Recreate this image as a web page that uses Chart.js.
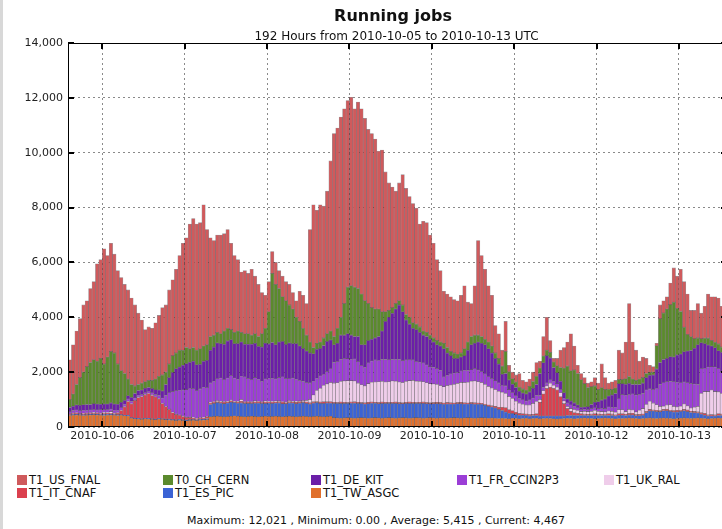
<!DOCTYPE html>
<html>
<head>
<meta charset="utf-8">
<script src="https://cdn.jsdelivr.net/npm/chart.js@4/dist/chart.umd.min.js"></script>
<style>
html, body { margin: 0; padding: 0; background: #fff; overflow: hidden; }
body { width: 722px; height: 529px; position: relative; font-family: "DejaVu Sans", sans-serif; color: #111; }
#edge { position: absolute; left: 0; top: 0; width: 3px; height: 529px; background: #d8d8d8; }
#wrap { position: absolute; left: 0; top: 0; width: 730px; height: 460px; }
.title { position: absolute; top: 6px; left: 0; width: 786px; text-align: center; font-weight: bold; font-size: 16px; }
.sub { position: absolute; top: 29px; left: 0; width: 793px; text-align: center; font-size: 12px; }
.leg { position: absolute; font-size: 11.5px; line-height: 13px; white-space: nowrap; }
.leg i { position: absolute; left: 0; top: 1px; width: 10px; height: 10px; }
.leg span { margin-left: 12px; }
#stats { position: absolute; top: 514px; left: 0; width: 752px; text-align: center; font-size: 11px; }
</style>
</head>
<body>
<div id="edge"></div>
<div id="wrap"><canvas id="chart" width="730" height="460"></canvas></div>
<div class="title">Running jobs</div>
<div class="sub">192 Hours from 2010-10-05 to 2010-10-13 UTC</div>
<div id="legend"></div>
<div id="stats">Maximum: 12,021 , Minimum: 0.00 , Average: 5,415 , Current: 4,467</div>
<script>
// hourly bins, first bin starts 2010-10-05 14:00 UTC
const FIRST_MIDNIGHT = 10
const DAYS = ['2010-10-06', '2010-10-07', '2010-10-08', '2010-10-09', '2010-10-10', '2010-10-11', '2010-10-12', '2010-10-13']
const Y_TICKS = [0, 2000, 4000, 6000, 8000, 10000, 12000, 14000]

// stacked bottom to top
const ASGC = [
  420, 430, 440, 430, 420, 430, 440, 450, 440, 430, 420, 430, 440, 430, 420, 430, 410, 400,
  320, 300, 290, 280, 300, 290, 280, 270, 290, 280,
  270, 260, 250, 240, 250, 240, 230, 240, 250, 240, 250, 260, 270,
  370, 380, 390, 380, 370, 380, 390, 400, 390, 380, 370, 380, 390, 380, 370, 380, 390, 380,
  380, 390, 380, 370, 380, 390, 380, 370, 380, 390, 380, 370, 380, 390, 380, 370, 380, 390,
  340, 330, 320, 330, 340, 330, 320, 330, 340, 330, 320, 330, 340, 330, 320, 330, 340, 330, 320, 330, 340, 330, 320, 330, 340, 330, 320, 330, 340, 330, 320, 330,
  330, 320, 330, 340, 330, 320, 330, 340, 330, 320, 330, 340, 330, 320, 330, 320, 310,
  320, 310, 300, 320, 310, 300, 310, 320, 300, 310, 320,
  300, 310, 320, 310, 300, 290, 300, 310, 320, 310, 300, 310, 320, 330, 320, 310, 300, 310, 320, 330, 320, 310, 300, 310,
  310, 320, 330, 320, 310, 300, 310, 320, 330, 320, 310, 320, 330, 320, 310, 300, 310, 320, 330, 320, 310, 320, 330, 320, 310, 300, 310, 320, 330, 320, 310
]
const PIC = [
  20, 30, 20, 20, 30, 20, 20, 30, 20, 20, 40, 30, 20, 20, 30, 20, 20, 30,
  20, 20, 30, 20, 20, 30, 20, 20, 30, 20,
  20, 30, 20, 20, 30, 20, 20, 30, 20, 20, 30, 20, 40,
  450, 480, 500, 490, 480, 500, 510, 490, 480, 500, 490, 480, 470, 490, 500, 480, 470, 490,
  480, 490, 500, 480, 470, 490, 500, 480, 490, 500, 480, 470, 490, 500, 480, 490, 500, 480,
  520, 530, 540, 530, 520, 540, 550, 530, 520, 510, 530, 540, 530, 520, 540, 530, 520, 530, 540, 520, 510, 530, 540, 530, 520, 530, 540, 520, 510, 520, 530, 520,
  500, 520, 510, 500, 520, 530, 510, 500, 520, 510, 500, 490, 460, 430, 400, 370, 330,
  280, 240, 200, 170, 150, 130, 120, 110, 100, 110, 100,
  100, 90, 80, 90, 100, 110, 100, 90, 100, 110, 120, 110, 100, 90, 100, 110, 120, 110, 100, 90, 100, 110, 100, 120,
  120, 100, 110, 120, 100, 110, 120, 200, 250, 260, 250, 240, 260, 270, 260, 250, 240, 250, 260, 240, 220, 200, 180, 150, 120, 100, 90, 80, 90, 100, 80
]
const CNAF = [
  40, 40, 50, 40, 40, 50, 40, 40, 50, 40, 40, 50, 40, 40, 60, 150, 300, 500,
  500, 650, 750, 800, 850, 900, 850, 800, 700, 550,
  450, 350, 250, 200, 150, 120, 100, 80, 60, 50, 50, 50, 60,
  60, 50, 40, 50, 60, 40, 50, 40, 50, 60, 40, 50, 40, 50, 60, 40, 50, 40,
  50, 40, 50, 60, 40, 50, 40, 50, 60, 40, 50, 40, 50, 40, 50, 60, 40, 50,
  40, 30, 50, 40, 30, 40, 50, 40, 30, 40, 50, 40, 30, 40, 50, 40, 30, 40, 50, 40, 30, 40, 50, 40, 30, 40, 50, 40, 30, 40, 50, 40,
  40, 50, 40, 30, 40, 50, 40, 30, 40, 50, 40, 30, 40, 50, 40, 60, 80,
  120, 150, 130, 100, 80, 60, 50, 40, 50, 40, 60,
  500, 800, 1000, 1050, 1000, 950, 700, 450, 250, 150, 100, 80, 60, 50, 40, 50, 60, 50, 40, 50, 60, 50, 40, 50,
  50, 40, 50, 60, 40, 50, 40, 50, 60, 40, 50, 40, 50, 60, 40, 50, 60, 40, 50, 60, 40, 50, 40, 50, 60, 40, 50, 40, 60, 50, 40
]
const RAL = [
  0, 10, 10, 0, 10, 10, 20, 10, 10, 20, 30, 20, 60, 20, 10, 10, 10, 10,
  10, 10, 20, 10, 10, 10, 20, 10, 10, 10,
  10, 10, 20, 10, 10, 20, 10, 10, 20, 10, 10, 20, 10,
  20, 10, 30, 20, 10, 20, 30, 10, 20, 60, 20, 10, 20, 30, 10, 20, 40, 20,
  20, 30, 20, 10, 20, 30, 20, 40, 20, 30, 60, 120, 250, 400, 500, 600, 650, 700,
  700, 720, 750, 780, 800, 780, 760, 700, 650, 620, 680, 720, 740, 760, 750, 740, 760, 780, 760, 750, 740, 760, 780, 800, 780, 760, 740, 720, 700, 680, 650, 620,
  600, 620, 650, 680, 700, 720, 740, 760, 780, 800, 780, 760, 720, 680, 650, 620, 580,
  550, 520, 480, 450, 400, 380, 350, 330, 350, 400, 450,
  100, 120, 100, 150, 120, 100, 150, 100, 80, 100, 120, 100, 80, 100, 100, 100, 120, 100, 100, 80, 100, 100, 100, 150,
  150, 100, 150, 120, 100, 150, 200, 250, 300, 250, 200, 150, 120, 150, 200, 150, 120, 150, 200, 150, 120, 150, 200, 700, 800, 850, 900, 850, 800, 750, 700
]
const CCIN2P3 = [
  80, 90, 100, 100, 110, 100, 100, 110, 100, 120, 100, 110, 100, 100, 90, 90, 80, 80,
  80, 80, 70, 80, 80, 70, 80, 90, 120, 200,
  400, 600, 750, 850, 900, 950, 1000, 1050, 1050, 1000, 1050, 1100, 1050,
  700, 750, 800, 850, 800, 850, 900, 850, 800, 850, 900, 850, 800, 850, 800, 750, 800, 850,
  850, 800, 850, 900, 850, 800, 850, 800, 750, 700, 650, 600, 500, 450, 450, 400, 450, 500,
  750, 780, 800, 820, 800, 780, 800, 780, 700, 680, 750, 780, 800, 780, 800, 820, 800, 780, 800, 820, 800, 780, 760, 740, 720, 700, 680, 650, 620, 600, 580, 550,
  350, 380, 400, 420, 400, 420, 450, 430, 420, 450, 430, 400, 380, 350, 350, 320, 300,
  250, 280, 250, 220, 200, 180, 160, 150, 180, 200, 220,
  150, 120, 100, 120, 150, 130, 120, 100, 120, 130, 120, 100, 80, 80, 80, 100, 100, 100, 120, 120, 150, 150, 180, 400,
  550, 600, 550, 580, 620, 580, 550, 530, 450, 500, 600, 800, 850, 850, 850, 900, 900, 850, 800, 850, 900, 850, 800, 900, 850, 900, 850, 900, 850, 800, 850
]
const KIT = [
  150, 160, 180, 200, 200, 210, 200, 210, 220, 200, 210, 200, 220, 230, 220, 200, 150, 120,
  150, 160, 170, 160, 150, 140, 150, 170, 200, 250,
  400, 550, 700, 800, 850, 900, 950, 950, 1000, 950, 900, 950, 1000,
  1200, 1250, 1300, 1250, 1300, 1350, 1300, 1250, 1300, 1250, 1200, 1250, 1300, 1250, 1200, 1250, 1300, 1250,
  1300, 1250, 1300, 1300, 1250, 1300, 1250, 1300, 1250, 1200, 1150, 1100, 1000, 1050, 1000, 1050, 1100, 1050,
  650, 660, 890, 850, 910, 880, 820, 920, 760, 820, 820, 790, 810, 870, 1040, 1390, 1550, 1690, 1830, 1990, 1780, 1460, 1300, 1160, 1160, 1090, 1020, 1040, 1000, 930, 870, 890,
  1030, 810, 670, 530, 510, 510, 530, 740, 910, 920, 1020, 1030, 1070, 1020, 930, 810, 700,
  400, 450, 350, 300, 300, 250, 250, 250, 300, 350, 400,
  800, 900, 1000, 800, 500, 400, 300, 200, 150, 150, 120, 100, 80, 80, 100, 150, 200, 250, 300, 350, 400, 450, 500, 550,
  400, 400, 400, 350, 380, 360, 380, 450, 500, 530, 700, 800, 850, 850, 900, 900, 1000, 1050, 1100, 1150, 1200, 1300, 1450, 950, 900, 800, 750, 700, 650, 700, 650
]
const CERN = [
  290, 440, 750, 1010, 1190, 1380, 1530, 1600, 1560, 1670, 1460, 1710, 1870, 1860, 1470, 1150, 980, 610,
  470, 280, 220, 250, 240, 260, 300, 390, 500, 590,
  450, 500, 610, 580, 610, 550, 590, 490, 500, 530, 560, 550, 570,
  500, 430, 390, 360, 480, 460, 370, 410, 460, 350, 380, 380, 330, 350, 360, 480, 550, 1170,
  2520, 2200, 1950, 1630, 1590, 1390, 1260, 960, 900, 740, 580, 400, 230, 220, 240, 280, 280, 330,
  300, 550, 650, 1150, 1700, 1800, 1800, 1750, 1850, 1600, 1350, 1150, 1050, 1000, 700, 350, 250, 200, 200, 150, 250, 200, 250, 200, 200, 200, 150, 150, 150, 150, 150, 150,
  200, 200, 150, 200, 150, 150, 250, 300, 300, 300, 250, 250, 200, 250, 250, 200, 200,
  300, 800, 300, 200, 200, 150, 150, 150, 200, 250, 300,
  200, 250, 200, 200, 200, 250, 500, 900, 1200, 1100, 1200, 1150, 1000, 850, 700, 650, 600, 450, 450, 350, 250, 200, 200, 150,
  150, 200, 250, 200, 150, 200, 200, 150, 100, 100, 850, 1600, 1700, 1800, 1900, 2000, 1700, 1550, 900, 600, 500, 350, 250, 150, 200, 250, 200, 200, 250, 200, 150
]
const FNAL = [
  1450, 1800, 1950, 2150, 2450, 2400, 2700, 2850, 3550, 3600, 4200, 3700, 3950, 3600, 3400, 3400, 3250, 3250,
  3150, 2950, 2600, 2300, 1900, 1950, 1900, 2050, 2220, 2450,
  2450, 2700, 2770, 3050, 3450, 3900, 4000, 4550, 4700, 4600, 4600, 5150, 4200,
  3600, 3450, 3550, 3600, 3550, 3600, 3150, 2800, 2600, 2200, 2300, 2200, 2400, 2100, 1900, 1500, 1200, 1100,
  800, 800, 650, 750, 700, 750, 600, 600, 1100, 1200, 1150, 4100, 5200, 4850, 5000, 4800, 5200, 6200,
  7400, 7300, 7300, 7100, 6800, 6871, 6500, 6800, 6750, 6650, 6350, 6350, 6200, 5750, 5900, 5100, 4650, 4400, 4100, 4300, 4750, 4600, 4400, 4350, 4230, 3750, 4000, 4000, 3650, 3450, 2950, 2600,
  1900, 1950, 2000, 1950, 1950, 2100, 2300, 1450, 1200, 1800, 3450, 2950, 2550, 2050, 1850, 1000, 900,
  580, 1100, 240, 240, 260, 500, 310, 300, 270, 340, 500,
  250, 710, 1200, 430, 130, 270, 630, 750, 880, 1350, 870, 300, 230, 220, 160, 180, 300, 230, 870, 430, 220, 280, 280, 1070,
  970, 1340, 2660, 1350, 1100, 650, 750, 550, 260, 200, 90, 500, 440, 450, 790, 1250, 1170, 1540, 1660, 1480, 960, 1030, 1250, 930, 1160, 1610, 1600, 1660, 1670, 1480, 1687
]

const SERIES = [
  { name: 'T1_TW_ASGC', values: ASGC, color: '#e0702c' },
  { name: 'T1_ES_PIC', values: PIC, color: '#3b63d5' },
  { name: 'T1_IT_CNAF', values: CNAF, color: '#db404e' },
  { name: 'T1_UK_RAL', values: RAL, color: '#efcdea' },
  { name: 'T1_FR_CCIN2P3', values: CCIN2P3, color: '#9b3ed6' },
  { name: 'T1_DE_KIT', values: KIT, color: '#6b1fa8' },
  { name: 'T0_CH_CERN', values: CERN, color: '#5b8a2d' },
  { name: 'T1_US_FNAL', values: FNAL, color: '#cf5a5c' }
]

// legend grid, as in the original (column-major)
const LEGEND_ROWS = [
  ['T1_US_FNAL', 'T0_CH_CERN', 'T1_DE_KIT', 'T1_FR_CCIN2P3', 'T1_UK_RAL'],
  ['T1_IT_CNAF', 'T1_ES_PIC', 'T1_TW_ASGC']
]
const LEGEND_X = [17, 163, 311, 457, 604]
const LEGEND_Y = [474, 487]

function fmt (v) {
  return String(v).replace(/\B(?=(\d{3})+(?!\d))/g, ',')
}

const legend = document.getElementById('legend')
LEGEND_ROWS.forEach((row, r) => {
  row.forEach((name, c) => {
    const s = SERIES.find((d) => d.name === name)
    const item = document.createElement('div')
    item.className = 'leg'
    item.style.left = LEGEND_X[c] + 'px'
    item.style.top = LEGEND_Y[r] + 'px'
    item.innerHTML = `<i style="background:${s.color}"></i><span>${name}</span>`
    legend.appendChild(item)
  })
})

const frame = {
  id: 'frame',
  afterDraw (chart) {
    const { ctx, chartArea: a, scales: { x, y } } = chart
    ctx.save()
    ctx.strokeStyle = '#000'
    ctx.lineWidth = 1
    ctx.strokeRect(a.left + 0.5, a.top + 0.5, a.right - a.left - 1, a.bottom - a.top - 1)
    ctx.lineWidth = 2
    ctx.beginPath()
    for (const t of x.ticks) {
      const px = Math.round(x.getPixelForValue(t.value))
      ctx.moveTo(px, a.top)
      ctx.lineTo(px, a.top + 6)
      ctx.moveTo(px, a.bottom)
      ctx.lineTo(px, a.bottom - 6)
    }
    for (const t of y.ticks) {
      const py = Math.round(y.getPixelForValue(t.value))
      ctx.moveTo(a.left, py)
      ctx.lineTo(a.left + 6, py)
      ctx.moveTo(a.right, py)
      ctx.lineTo(a.right - 6, py)
    }
    ctx.stroke()
    ctx.restore()
  }
}

Chart.defaults.font.family = '"DejaVu Sans", sans-serif'
Chart.defaults.color = '#222'

new Chart(document.getElementById('chart'), {
  type: 'bar',
  data: {
    datasets: SERIES.map((s) => ({
      label: s.name,
      data: s.values.map((v, i) => ({ x: i + 0.5, y: v })),
      backgroundColor: s.color,
      borderColor: 'rgba(30, 20, 30, 0.45)',
      borderWidth: 0.6,
      borderSkipped: false,
      barPercentage: 1,
      categoryPercentage: 1
    }))
  },
  options: {
    animation: false,
    responsive: false,
    layout: { padding: { top: 43, right: 3, bottom: 13, left: 0 } },
    plugins: { legend: { display: false }, tooltip: { enabled: false } },
    scales: {
      x: {
        type: 'linear',
        stacked: true,
        min: 0,
        max: 192,
        offset: false,
        z: 1,
        afterFit: (s) => { s.height = 20 },
        afterBuildTicks: (s) => { s.ticks = DAYS.map((d, i) => ({ value: FIRST_MIDNIGHT + 24 * i })) },
        ticks: {
          autoSkip: false,
          maxRotation: 0,
          padding: 3,
          font: { size: 11 },
          callback: (v, i) => DAYS[i]
        },
        grid: { color: '#8a8a8a', lineWidth: 1, drawTicks: false, offset: false },
        border: { display: false, dash: [2, 3] }
      },
      y: {
        stacked: true,
        min: 0,
        max: 14000,
        z: 1,
        afterFit: (s) => { s.width = 68 },
        afterBuildTicks: (s) => { s.ticks = Y_TICKS.map((v) => ({ value: v })) },
        ticks: {
          padding: 5,
          font: { size: 11 },
          callback: (v) => fmt(v)
        },
        grid: { color: '#8a8a8a', lineWidth: 1, drawTicks: false },
        border: { display: false, dash: [2, 3] }
      }
    }
  },
  plugins: [frame]
})
</script>
</body>
</html>
